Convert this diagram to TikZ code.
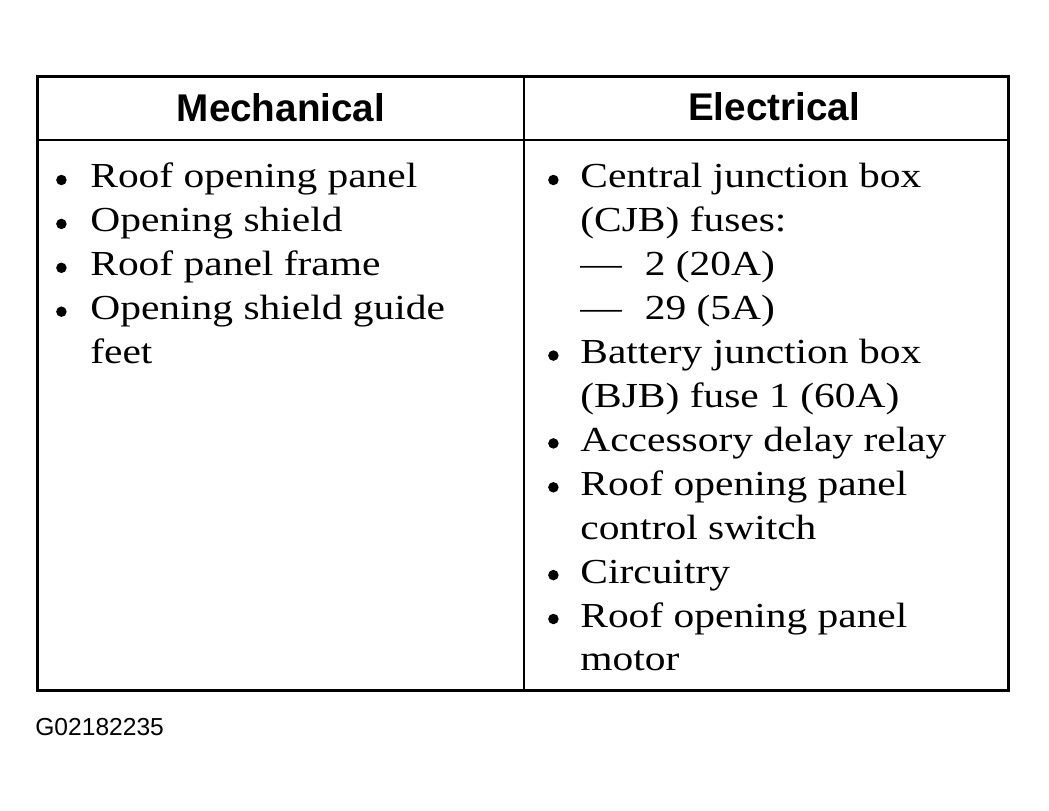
\documentclass[tikz,border=0pt]{standalone}
\usepackage{fontspec}
\setmainfont{Liberation Serif}
\newfontfamily\bodyfont{Liberation Serif}[FakeStretch=1.18, Ligatures=TeX]
\newfontfamily\headfont{Liberation Sans}
\usetikzlibrary{positioning}

\begin{document}
\begin{tikzpicture}[x=0.02cm, y=-0.02cm,
  head/.style={anchor=base, font=\headfont\fontsize{22}{26}\selectfont\bfseries, inner sep=0pt},
  entry/.style={anchor=base west, font=\bodyfont\fontsize{20}{24}\selectfont, inner sep=0pt},
  dot/.style={circle, fill=black, inner sep=0pt, minimum size=0.21cm, yshift=0.16cm},
  tag/.style={anchor=base west, font=\headfont\fontsize{14}{16}\selectfont, inner sep=0pt},
  frame/.style={line width=0.06cm},
  rule/.style={line width=0.04cm}
]
\useasboundingbox (0,0) rectangle (1049,811);

% table frame
\draw[frame] (37.5,76.5) rectangle (1008,690);
\draw[rule] (37.5,140) -- (1008,140);
\draw[rule] (524,76.5) -- (524,690);

% headers
\node[head] (mech) at (281,122) {Mechanical};
\node[head] (elec) at (774,121) {Electrical};

% mechanical column
\foreach \txt [count=\i] in {{Roof opening panel}, {Opening shield}, {Roof panel frame}, {Opening shield guide}, {feet}}
  \node[entry] (m\i) at (90,{188+43.9*(\i-1)}) {\txt};
\foreach \i in {1,...,4}
  \node[dot, left=0.46cm of m\i.base west] (mb\i) {};

% electrical column
\foreach \txt [count=\i] in {{Central junction box}, {(CJB) fuses:}, {—\hspace{0.46cm}2 (20A)}, {—\hspace{0.46cm}29 (5A)},
    {Battery junction box}, {(BJB) fuse 1 (60A)}, {Accessory delay relay}, {Roof opening panel},
    {control switch}, {Circuitry}, {Roof opening panel}, {motor}}
  \node[entry] (e\i) at (580,{188+43.9*(\i-1)}) {\txt};
\foreach \i in {1,5,7,8,10,11}
  \node[dot, left=0.42cm of e\i.base west] (eb\i) {};

\node[tag] (fig) at (35,735) {G02182235};

\end{tikzpicture}
\end{document}
